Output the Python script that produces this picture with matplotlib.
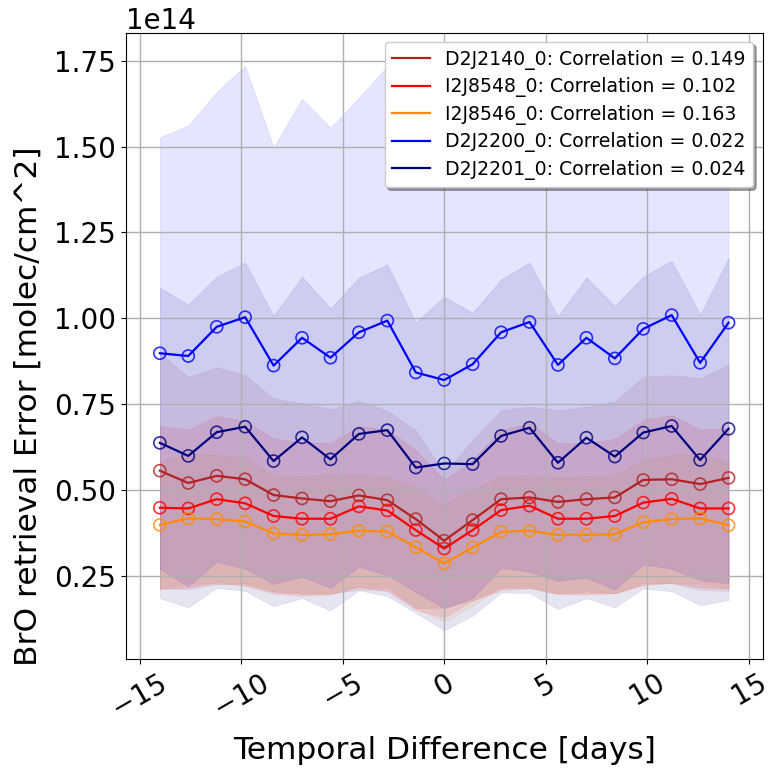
import numpy as np
import matplotlib
matplotlib.use("Agg")
import matplotlib.pyplot as plt

# Temporal difference bins [days]
days = [-14, -12.6, -11.2, -9.8, -8.4, -7, -5.6, -4.2, -2.8, -1.4, 0,
        1.4, 2.8, 4.2, 5.6, 7, 8.4, 9.8, 11.2, 12.6, 14]

names = ["D2J2140_0", "I2J8548_0", "I2J8546_0", "D2J2200_0", "D2J2201_0"]
correlations = [0.149, 0.102, 0.163, 0.022, 0.024]
colors = ["firebrick", "red", "darkorange", "blue", "navy"]

# mean retrieval error (1e14 molec/cm^2)
mean_d2j2140 = [0.556, 0.520, 0.541, 0.531, 0.485, 0.475, 0.467, 0.484, 0.470, 0.415, 0.352,
                0.412, 0.473, 0.478, 0.465, 0.473, 0.478, 0.529, 0.531, 0.517, 0.535]
mean_i2j8548 = [0.448, 0.446, 0.473, 0.461, 0.424, 0.416, 0.416, 0.452, 0.440, 0.383, 0.329,
                0.383, 0.441, 0.454, 0.416, 0.416, 0.424, 0.463, 0.474, 0.446, 0.446]
mean_i2j8546 = [0.398, 0.417, 0.415, 0.408, 0.373, 0.369, 0.371, 0.381, 0.379, 0.333, 0.286,
                0.332, 0.378, 0.381, 0.369, 0.369, 0.371, 0.406, 0.415, 0.417, 0.397]
mean_d2j2200 = [0.898, 0.890, 0.975, 1.003, 0.862, 0.943, 0.885, 0.959, 0.993, 0.842, 0.820,
                0.866, 0.959, 0.989, 0.864, 0.943, 0.883, 0.969, 1.009, 0.870, 0.987]
mean_d2j2201 = [0.637, 0.599, 0.668, 0.684, 0.584, 0.653, 0.589, 0.663, 0.674, 0.565, 0.577,
                0.575, 0.657, 0.681, 0.579, 0.652, 0.597, 0.667, 0.686, 0.587, 0.678]

# standard deviation of the retrieval error (1e14 molec/cm^2)
std_d2j2140 = [0.342, 0.309, 0.316, 0.303, 0.281, 0.277, 0.268, 0.275, 0.260, 0.259, 0.195,
               0.233, 0.259, 0.264, 0.267, 0.269, 0.279, 0.300, 0.303, 0.308, 0.329]
std_i2j8548 = [0.238, 0.230, 0.242, 0.240, 0.226, 0.224, 0.220, 0.234, 0.236, 0.233, 0.200,
               0.205, 0.234, 0.240, 0.220, 0.220, 0.225, 0.240, 0.244, 0.230, 0.233]
std_i2j8546 = [0.184, 0.189, 0.187, 0.187, 0.170, 0.171, 0.174, 0.164, 0.161, 0.176, 0.170,
               0.170, 0.162, 0.162, 0.169, 0.171, 0.172, 0.183, 0.186, 0.189, 0.185]
std_d2j2200 = [0.629, 0.671, 0.684, 0.732, 0.636, 0.696, 0.670, 0.683, 0.741, 0.639, 0.665,
               0.680, 0.686, 0.727, 0.629, 0.698, 0.673, 0.686, 0.738, 0.633, 0.759]
std_d2j2201 = [0.452, 0.441, 0.453, 0.478, 0.423, 0.468, 0.440, 0.455, 0.483, 0.423, 0.486,
               0.441, 0.456, 0.481, 0.426, 0.467, 0.439, 0.454, 0.481, 0.423, 0.498]

means = [mean_d2j2140, mean_i2j8548, mean_i2j8546, mean_d2j2200, mean_d2j2201]
stds = [std_d2j2140, std_i2j8548, std_i2j8546, std_d2j2200, std_d2j2201]

scale = 1e14

fig = plt.figure(figsize=(7.68, 7.69), dpi=100)
ax = fig.add_axes([0.1637, 0.1430, 0.8294, 0.8145])

x = np.array(days)
for name, corr, col, m, s in zip(names, correlations, colors, means, stds):
    m = np.array(m) * scale
    s = np.array(s) * scale
    ax.fill_between(x, m - s, m + s, color=col, alpha=0.1, linewidth=0.5)
    ax.plot(x, m, color=col, lw=1.6, label=f"{name}: Correlation = {corr:.3f}")
    ax.scatter(x, m, s=75, facecolors="none", edgecolors=col, linewidths=1.2,
               alpha=0.8, zorder=3)

ax.set_xlim(-15.68, 15.68)
ax.set_ylim(0.0074e14, 1.8316e14)
ax.set_xticks([-15, -10, -5, 0, 5, 10, 15])
ax.set_yticks(np.array([0.25, 0.5, 0.75, 1.0, 1.25, 1.5, 1.75]) * scale)
ax.grid(True, color="#b0b0b0", lw=1.0)
ax.tick_params(axis="both", labelsize=20)
plt.setp(ax.get_xticklabels(), rotation=30)
ax.yaxis.get_offset_text().set_fontsize(20)
ax.set_xlabel("Temporal Difference [days]", fontsize=22.5, labelpad=10)
ax.set_ylabel("BrO retrieval Error [molec/cm^2]", fontsize=22.5)
ax.yaxis.set_label_coords(-0.130, 0.404)
ax.legend(loc="upper right", fontsize=13.6, shadow=True, handlelength=2.0,
          labelspacing=0.4)

fig.savefig("out.png", dpi=100)
